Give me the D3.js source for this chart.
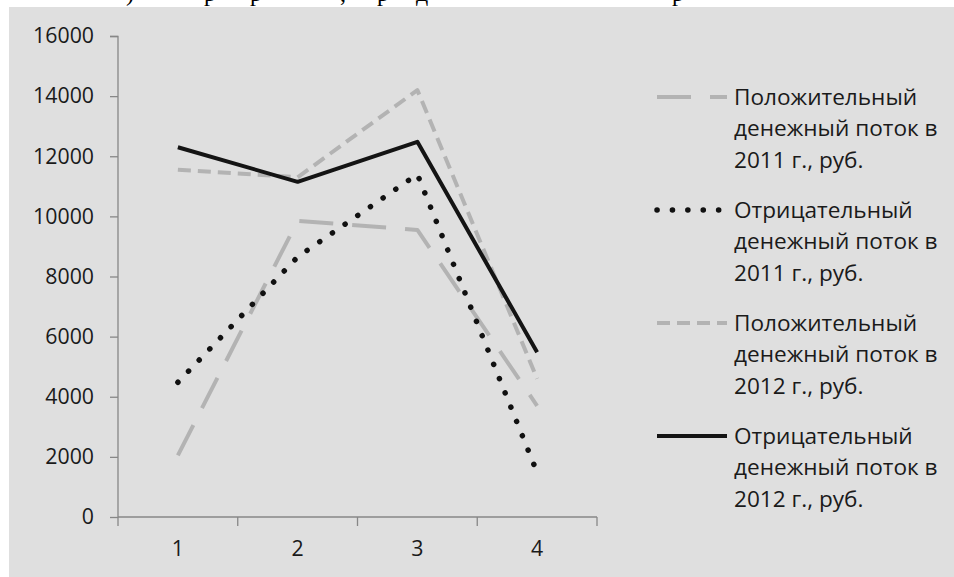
<!DOCTYPE html>
<html><head><meta charset="utf-8">
<script src="https://cdn.jsdelivr.net/npm/d3@7"></script>
<style>
html,body{margin:0;padding:0;background:#fff;}
svg{display:block;}
</style></head>
<body>
<svg id="chart" width="954" height="577"></svg>
<script>
// ---- data ----
const categories = [1, 2, 3, 4];
const yTicks = [0, 2000, 4000, 6000, 8000, 10000, 12000, 14000, 16000];
const seriesNames = [
  ["Положительный", "денежный поток в", "2011 г., руб."],
  ["Отрицательный", "денежный поток в", "2011 г., руб."],
  ["Положительный", "денежный поток в", "2012 г., руб."],
  ["Отрицательный", "денежный поток в", "2012 г., руб."]
];
const pos2011 = [2050, 9850, 9550, 3700];
const neg2011 = [4480, 8650, 11400, 1480];
const pos2012 = [11550, 11300, 14200, 4600];
const neg2012 = [12300, 11150, 12480, 5480];
const seriesValues = [pos2011, neg2011, pos2012, neg2012];
const headerFragments = [")", "р", "р", ",", "р", "д", "р"];

// ---- styles ----
const styles = [
  {color: "#b3b3b3", width: 4, dash: "34,19", cap: "butt"},
  {color: "#111111", width: 5.5, dash: "0.1,15.3", cap: "round"},
  {color: "#b3b3b3", width: 4, dash: "13,7", cap: "butt"},
  {color: "#141414", width: 4, dash: null, cap: "butt"}
];
const FONT = "'Open Sans', sans-serif";
const FS_AXIS = 21.3;
const FS_LEG = 22.6;

const svg = d3.select("#chart");
// background
svg.append("rect").attr("x", 9).attr("y", 7).attr("width", 945).attr("height", 570).attr("fill", "#dfdfdf");

// clipped header text fragments (from page above)
const hdrX = [126, 204, 250, 340, 377, 416, 672];
const hdr = svg.append("text").attr("y", 0.5).attr("font-family", "'Liberation Serif', serif")
  .attr("font-size", 24).attr("fill", "#000");
headerFragments.forEach((t, i) => hdr.append("tspan").attr("x", hdrX[i]).text(t));

// ---- scales ----
const x = d3.scaleBand().domain(categories).range([118, 597]).paddingInner(0).paddingOuter(0);
const y = d3.scaleLinear().domain([0, 16000]).range([517, 36]);

// y axis
const yAxis = d3.axisLeft(y).tickValues(yTicks).tickSize(8).tickPadding(16).tickFormat(d3.format("d"));
const gy = svg.append("g").attr("transform", "translate(118,0)").call(yAxis);
gy.select(".domain").attr("stroke", "#878787").attr("stroke-width", 1.3).attr("d", "M-8,36.5H0V517");
gy.selectAll(".tick line").attr("stroke", "#878787").attr("stroke-width", 1.3);
gy.selectAll(".tick text").attr("font-family", FONT).attr("font-size", FS_AXIS).attr("fill", "#1a1a1a");

// x axis (labels centered, ticks between categories)
const xAxis = d3.axisBottom(x).tickSize(0).tickPadding(24);
const gx = svg.append("g").attr("transform", "translate(0,517)").call(xAxis);
gx.select(".domain").attr("stroke", "#878787").attr("stroke-width", 1.3).attr("d", "M118,0H597");
gx.selectAll(".tick text").attr("font-family", FONT).attr("font-size", FS_AXIS).attr("fill", "#1a1a1a");
const bounds = categories.map(c => x(c)).concat([x(categories[categories.length - 1]) + x.bandwidth()]);
gx.selectAll(".bt").data(bounds).enter().append("line")
  .attr("x1", d => d).attr("x2", d => d).attr("y1", 0).attr("y2", 9)
  .attr("stroke", "#878787").attr("stroke-width", 1.3);

// ---- lines ----
const line = d3.line().x((d, i) => x(categories[i]) + x.bandwidth() / 2).y(d => y(d));
seriesValues.forEach((vals, k) => {
  const s = styles[k];
  svg.append("path").datum(vals).attr("d", line)
    .attr("fill", "none").attr("stroke", s.color).attr("stroke-width", s.width)
    .attr("stroke-linejoin", "round").attr("stroke-linecap", s.cap)
    .attr("stroke-dasharray", s.dash);
});

// ---- legend ----
const legTop = 97, entryGap = 113, lineGap = 31.5;
seriesNames.forEach((lines, k) => {
  const s = styles[k];
  const cy = legTop + k * entryGap;
  svg.append("line").attr("x1", 657).attr("x2", 727).attr("y1", cy).attr("y2", cy)
    .attr("stroke", s.color).attr("stroke-width", s.width).attr("stroke-linecap", s.cap)
    .attr("stroke-dasharray", s.dash);
  const t = svg.append("text").attr("font-family", FONT).attr("font-size", FS_LEG).attr("fill", "#1a1a1a");
  lines.forEach((ln, j) => t.append("tspan").attr("x", 734).attr("y", cy + j * lineGap).attr("dy", "0.35em").text(ln));
});
</script>
</body></html>
